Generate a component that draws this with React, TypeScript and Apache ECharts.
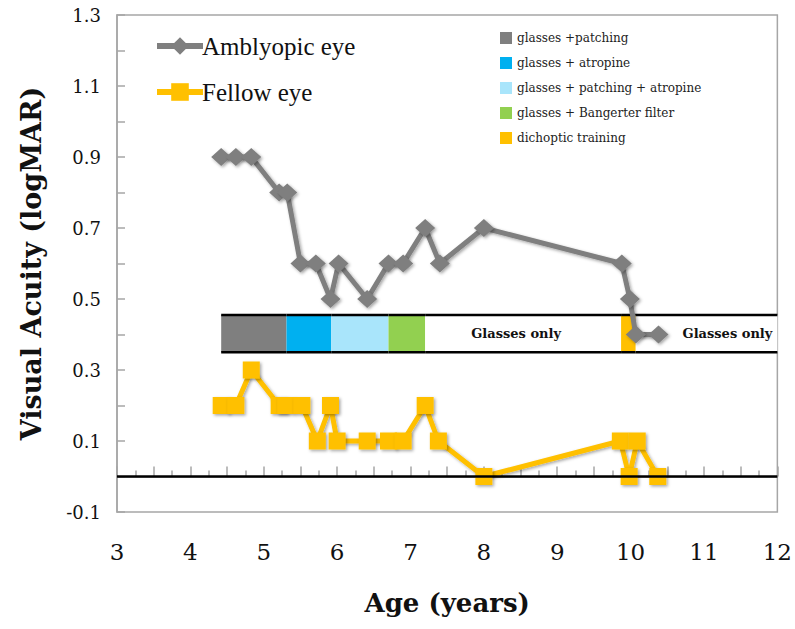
import React, { useEffect, useRef } from "react";
import * as echarts from "echarts";

// ---- data ----
const amblyAge = [4.42, 4.62, 4.83, 5.21, 5.32, 5.5, 5.71, 5.91, 6.02, 6.41, 6.7, 6.9, 7.2, 7.4, 8.0, 9.88, 9.99, 10.07, 10.38];
const amblyVA = [0.9, 0.9, 0.9, 0.8, 0.8, 0.6, 0.6, 0.5, 0.6, 0.5, 0.6, 0.6, 0.7, 0.6, 0.7, 0.6, 0.5, 0.4, 0.4];

const fellowAge = [4.42, 4.62, 4.83, 5.21, 5.3, 5.52, 5.73, 5.91, 6.0, 6.41, 6.7, 6.9, 7.2, 7.38, 8.0, 9.86, 9.98, 10.09, 10.37];
const fellowVA = [0.2, 0.2, 0.3, 0.2, 0.2, 0.2, 0.1, 0.2, 0.1, 0.1, 0.1, 0.1, 0.2, 0.1, 0.0, 0.1, 0.0, 0.1, 0.0];

const treatments = [
  "glasses +patching",
  "glasses + atropine",
  "glasses + patching + atropine",
  "glasses + Bangerter filter",
  "dichoptic training",
];
const segStart = [4.42, 5.31, 5.92, 6.7, 7.2, 9.87, 10.07];
const segEnd = [5.31, 5.92, 6.7, 7.2, 9.87, 10.07, 12];
const segKind = [
  "glasses +patching",
  "glasses + atropine",
  "glasses + patching + atropine",
  "glasses + Bangerter filter",
  "Glasses only",
  "dichoptic training",
  "Glasses only",
];
const barBottom = 0.35;
const barTop = 0.455;

// ---- styles ----
const treatColor: Record<string, string> = {
  "glasses +patching": "#7f7f7f",
  "glasses + atropine": "#00b0f0",
  "glasses + patching + atropine": "#a9e5fb",
  "glasses + Bangerter filter": "#92d050",
  "dichoptic training": "#ffc000",
  "Glasses only": "#ffffff",
};
const GRAY = "#7f7f7f";
const YELLOW = "#ffc000";
const AXIS = "#a6a6a6";
const SERIF = "'DejaVu Serif', serif";
const LSERIF = "'Liberation Serif', serif";

export default function App() {
  const ref = useRef<HTMLDivElement>(null);
  useEffect(() => {
    if (!ref.current) return;
    const chart = echarts.init(ref.current, undefined, { renderer: "svg" });

    const legendGraphics: any[] = [];
    treatments.forEach((t, i) => {
      const cy = 38 + i * 25;
      legendGraphics.push({
        type: "rect",
        shape: { x: 500, y: cy - 6, width: 12, height: 12 },
        style: { fill: treatColor[t] },
      });
      legendGraphics.push({
        type: "text",
        x: 517,
        y: cy,
        style: {
          text: t,
          fill: "#222",
          font: `12px ${SERIF}`,
          textVerticalAlign: "middle",
          verticalAlign: "middle",
        },
      });
    });

    const shadow = {
      shadowColor: "rgba(0,0,0,0.35)",
      shadowBlur: 3,
      shadowOffsetX: 1.5,
      shadowOffsetY: 1.5,
    };

    chart.setOption({
      animation: false,
      backgroundColor: "#ffffff",
      grid: {
        left: 117,
        right: 14,
        top: 15,
        bottom: 117,
        show: true,
        borderColor: AXIS,
        borderWidth: 1.5,
      },
      legend: {
        orient: "vertical",
        left: 149,
        top: 28,
        itemWidth: 46,
        itemHeight: 22,
        itemGap: 20,
        data: ["Amblyopic eye", "Fellow eye"],
        lineStyle: { width: 6 },
        textStyle: { fontFamily: LSERIF, fontSize: 25, color: "#111", lineHeight: 26, padding: [0, 0, 0, -6] },
      },
      xAxis: {
        type: "value",
        min: 3,
        max: 12,
        interval: 0.5,
        axisLine: { show: true, lineStyle: { color: AXIS, width: 1.5 } },
        axisTick: { show: true, inside: true, length: 10, lineStyle: { color: AXIS, width: 1.5 } },
        minorTick: { show: true, splitNumber: 2, length: 6, lineStyle: { color: AXIS, width: 1.5 } },
        splitLine: { show: false },
        axisLabel: {
          margin: 28,
          fontFamily: SERIF,
          fontSize: 23,
          color: "#111",
          formatter: (v: number) => (Math.abs(v - Math.round(v)) < 1e-6 ? String(Math.round(v)) : ""),
        },
        name: "Age (years)",
        nameLocation: "middle",
        nameGap: 78,
        nameTextStyle: { fontFamily: SERIF, fontSize: 26, fontWeight: "bold", color: "#111" },
      },
      yAxis: {
        type: "value",
        min: -0.1,
        max: 1.3,
        interval: 0.1,
        axisLine: { show: true, lineStyle: { color: AXIS, width: 1.5 } },
        axisTick: { show: true, inside: true, length: 8, lineStyle: { color: AXIS, width: 1.5 } },
        splitLine: { show: false },
        axisLabel: {
          margin: 16,
          fontFamily: SERIF,
          fontSize: 18,
          color: "#111",
          formatter: (v: number) => {
            const k = Math.round(v * 10);
            if (Math.abs(k) % 2 === 1) return (k / 10).toFixed(1);
            return "";
          },
        },
        name: "Visual Acuity (logMAR)",
        nameLocation: "middle",
        nameGap: 72,
        nameRotate: 90,
        nameTextStyle: { fontFamily: SERIF, fontSize: 27, fontWeight: "bold", color: "#111" },
      },
      graphic: legendGraphics,
      series: [
        {
          type: "custom",
          name: "treatment",
          z: 1,
          silent: true,
          encode: { x: [0, 1], y: [2, 3] },
          data: segStart.map((s, i) => [s, segEnd[i], barBottom, barTop]),
          renderItem: (params: any, api: any) => {
            const kind = segKind[params.dataIndex];
            const p1 = api.coord([api.value(0), barTop]);
            const p2 = api.coord([api.value(1), barBottom]);
            const w = p2[0] - p1[0];
            const h = p2[1] - p1[1];
            const children: any[] = [
              {
                type: "rect",
                shape: { x: p1[0], y: p1[1], width: w, height: h },
                style: { fill: treatColor[kind] },
                textContent:
                  kind === "Glasses only"
                    ? {
                        style: {
                          text: kind,
                          font: `bold 13px ${SERIF}`,
                          fill: "#111",
                        },
                      }
                    : undefined,
                textConfig:
                  kind === "Glasses only"
                    ? params.dataIndex === segKind.length - 1
                      ? { position: "insideRight", distance: 5 }
                      : { position: "inside", offset: [-7, 0] }
                    : undefined,
              },
              {
                type: "line",
                shape: { x1: p1[0], y1: p1[1], x2: p2[0], y2: p1[1] },
                style: { stroke: "#000", lineWidth: 2.5 },
              },
              {
                type: "line",
                shape: { x1: p1[0], y1: p2[1], x2: p2[0], y2: p2[1] },
                style: { stroke: "#000", lineWidth: 2.5 },
              },
            ];
            return { type: "group", children };
          },
          markLine: {
            silent: true,
            symbol: "none",
            label: { show: false },
            lineStyle: { color: "#000", width: 2.5, type: "solid" },
            data: [{ yAxis: 0 }],
          },
        },
        {
          type: "line",
          name: "Amblyopic eye",
          z: 3,
          data: amblyAge.map((a, i) => [a, amblyVA[i]]),
          symbol: "diamond",
          symbolSize: [20, 18],
          color: GRAY,
          lineStyle: { color: GRAY, width: 5, ...shadow },
          itemStyle: { color: GRAY, ...shadow },
        },
        {
          type: "line",
          name: "Fellow eye",
          z: 3,
          data: fellowAge.map((a, i) => [a, fellowVA[i]]),
          symbol: "rect",
          symbolSize: 17,
          color: YELLOW,
          lineStyle: { color: YELLOW, width: 5, ...shadow },
          itemStyle: { color: YELLOW, ...shadow },
        },
      ],
    });
    return () => chart.dispose();
  }, []);
  return (
    <div
      ref={ref}
      style={{ position: "fixed", left: 0, top: 0, width: 795, height: 629, background: "#fff" }}
    />
  );
}
